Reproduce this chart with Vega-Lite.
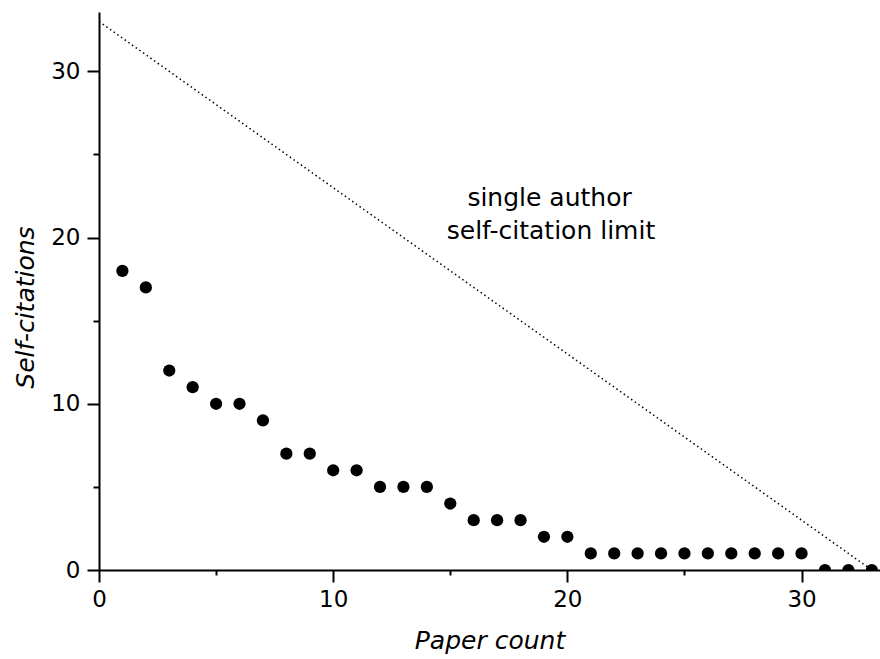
{
  "$schema": "https://vega.github.io/schema/vega-lite/v6.json",
  "width": 781,
  "height": 558,
  "autosize": {"type": "none"},
  "padding": {"left": 99, "top": 12, "right": 0, "bottom": 89},
  "background": "white",
  "config": {
    "view": {"stroke": null},
    "font": "DejaVu Sans",
    "axis": {
      "grid": false,
      "domainColor": "black",
      "domainWidth": 2,
      "tickColor": "black",
      "tickWidth": 2,
      "labelFont": "DejaVu Sans",
      "labelFontSize": 23,
      "labelColor": "black",
      "labelFlush": false,
      "labelOverlap": false,
      "titleFont": "DejaVu Sans",
      "titleFontSize": 25,
      "titleFontStyle": "italic",
      "titleFontWeight": "normal",
      "titleColor": "black"
    }
  },
  "datasets": {
    "limit": [{"papers": 0, "cites": 33}, {"papers": 33, "cites": 0}],
    "points": [
      {"papers": 1, "cites": 18}, {"papers": 2, "cites": 17}, {"papers": 3, "cites": 12},
      {"papers": 4, "cites": 11}, {"papers": 5, "cites": 10}, {"papers": 6, "cites": 10},
      {"papers": 7, "cites": 9}, {"papers": 8, "cites": 7}, {"papers": 9, "cites": 7},
      {"papers": 10, "cites": 6}, {"papers": 11, "cites": 6}, {"papers": 12, "cites": 5},
      {"papers": 13, "cites": 5}, {"papers": 14, "cites": 5}, {"papers": 15, "cites": 4},
      {"papers": 16, "cites": 3}, {"papers": 17, "cites": 3}, {"papers": 18, "cites": 3},
      {"papers": 19, "cites": 2}, {"papers": 20, "cites": 2}, {"papers": 21, "cites": 1},
      {"papers": 22, "cites": 1}, {"papers": 23, "cites": 1}, {"papers": 24, "cites": 1},
      {"papers": 25, "cites": 1}, {"papers": 26, "cites": 1}, {"papers": 27, "cites": 1},
      {"papers": 28, "cites": 1}, {"papers": 29, "cites": 1}, {"papers": 30, "cites": 1},
      {"papers": 31, "cites": 0}, {"papers": 32, "cites": 0}, {"papers": 33, "cites": 0}
    ],
    "labels": [
      {"papers": 19.24, "cites": 21.9, "label": "single author"},
      {"papers": 19.3, "cites": 19.9, "label": "self-citation limit"}
    ]
  },
  "layer": [
    {
      "data": {"name": "limit"},
      "mark": {"type": "line", "stroke": "black", "strokeWidth": 1.5, "strokeDash": [1.5, 3], "clip": true},
      "encoding": {
        "x": {
          "field": "papers", "type": "quantitative",
          "scale": {"domain": [0, 33.35], "nice": false, "zero": false},
          "axis": {
            "orient": "bottom",
            "values": [0, 5, 10, 15, 20, 25, 30],
            "labelExpr": "datum.value % 10 === 0 ? datum.label : ''",
            "tickSize": {"condition": {"test": "datum.value % 10 === 0", "value": 12}, "value": 5},
            "labelPadding": 6,
            "title": "Paper count",
            "titlePadding": 17
          }
        },
        "y": {
          "field": "cites", "type": "quantitative",
          "scale": {"domain": [0, 33.57], "nice": false, "zero": false},
          "axis": {
            "orient": "left",
            "values": [0, 5, 10, 15, 20, 25, 30],
            "labelExpr": "datum.value % 10 === 0 ? datum.label : ''",
            "tickSize": {"condition": {"test": "datum.value % 10 === 0", "value": 12}, "value": 6},
            "labelPadding": 7,
            "title": "Self-citations",
            "titlePadding": 12,
            "titleY": 295
          }
        }
      }
    },
    {
      "data": {"name": "points"},
      "mark": {"type": "circle", "size": 150, "opacity": 1, "color": "black", "clip": true},
      "encoding": {
        "x": {"field": "papers", "type": "quantitative"},
        "y": {"field": "cites", "type": "quantitative"}
      }
    },
    {
      "data": {"name": "labels"},
      "mark": {"type": "text", "fontSize": 25, "align": "center", "baseline": "alphabetic", "color": "black", "font": "DejaVu Sans"},
      "encoding": {
        "x": {"field": "papers", "type": "quantitative"},
        "y": {"field": "cites", "type": "quantitative"},
        "text": {"field": "label", "type": "nominal"}
      }
    }
  ]
}
